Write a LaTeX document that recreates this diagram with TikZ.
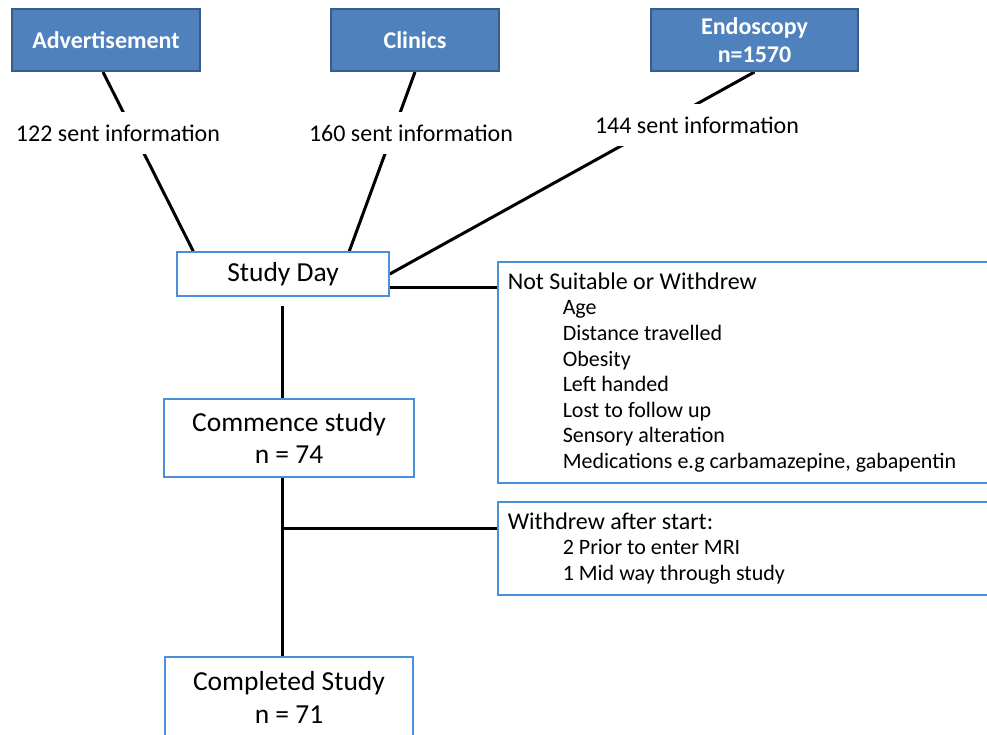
\documentclass[tikz,border=0pt]{standalone}
\usepackage{fontspec}
\setmainfont{Carlito}
\usetikzlibrary{calc,backgrounds}
\definecolor{topfill}{HTML}{4F81BD}
\definecolor{topedge}{HTML}{385D8A}
\definecolor{thinedge}{HTML}{4A90D9}
\tikzset{
  topbox/.style={draw=topedge, line width=2pt, fill=topfill, text=white,
    font=\fontsize{24}{28}\selectfont\bfseries, align=flush center, inner sep=0pt},
  mainbox/.style={draw=thinedge, line width=1.5pt, fill=white,
    font=\fontsize{27.5}{33}\selectfont, align=flush center, inner sep=0pt},
  listbox/.style={draw=thinedge, line width=1.5pt, fill=white, anchor=west,
    font=\fontsize{24}{25.6}\selectfont, align=flush left, inner xsep=10pt, inner ysep=0pt,
    text width=520pt},
  sentlabel/.style={fill=white, inner xsep=2pt, inner ysep=0pt, minimum height=42pt,
    font=\fontsize{24}{28}\selectfont},
  link/.style={line width=3pt, black}
}
\newcommand{\ind}{\hspace*{55pt}\fontsize{22}{25.6}\selectfont}
\begin{document}
\begin{tikzpicture}[x=1pt,y=-1pt]
\clip (0,0) rectangle (987,734);
% top boxes
\node[topbox, minimum width=188pt, minimum height=62pt] (adv) at (106,40) {Advertisement};
\node[topbox, minimum width=168pt, minimum height=62pt] (cli) at (415,40) {Clinics};
\node[topbox, minimum width=207pt, minimum height=62pt] (endo) at (754.5,40) {Endoscopy\\n=1570};
% labels
\node[sentlabel] (l1) at (118,133) {122 sent information};
\node[sentlabel] (l2) at (411,133) {160 sent information};
\node[sentlabel] (l3) at (697,125) {144 sent information};
% main boxes
\node[mainbox, minimum width=212pt, minimum height=44pt] (sd) at (283,274) {Study Day};
\node[mainbox, minimum width=250pt, minimum height=78pt, font=\fontsize{27.5}{32}\selectfont] (cs) at (289,438) {Commence study\\n = 74};
\node[mainbox, minimum width=248pt, minimum height=80pt] (cp) at (289,697) {Completed Study\\n = 71};
% side boxes
\node[listbox, minimum height=221pt] (ns) at (497,372.5) {Not Suitable or Withdrew\\
\ind Age\\
\ind Distance travelled\\
\ind Obesity\\
\ind Left handed\\
\ind Lost to follow up\\
\ind Sensory alteration\\
\ind Medications e.g carbamazepine, gabapentin};
\node[listbox, minimum height=93pt] (wd) at (497,548.5) {Withdrew after start:\\
\ind 2 Prior to enter MRI\\
\ind 1 Mid way through study};
% connectors
\coordinate (sdns) at ($(sd.south east)+(0,-9)$);
\coordinate (vtop) at ($(sd.south)+(-1,9)$);
\coordinate (wdj) at ($(wd.north west)+(0,27)$);
\begin{scope}[on background layer]
\fill[white] (0,0) rectangle (987,734);
\draw[link] ($(adv.south)+(-3,0)$) -- ($(sd.north west)+(17,0)$);
\draw[link] (cli.south) -- ($(sd.north west)+(173,0)$);
\draw[link] (endo.south) -- (sd.east);
\end{scope}
\draw[link] (sdns) -- (sdns -| ns.west);
\draw[link] (vtop) -- (vtop |- cs.north);
\draw[link] (vtop |- cs.south) -- (vtop |- cp.north);
\draw[link] (wdj) -- (wdj -| vtop);
\end{tikzpicture}
\end{document}
